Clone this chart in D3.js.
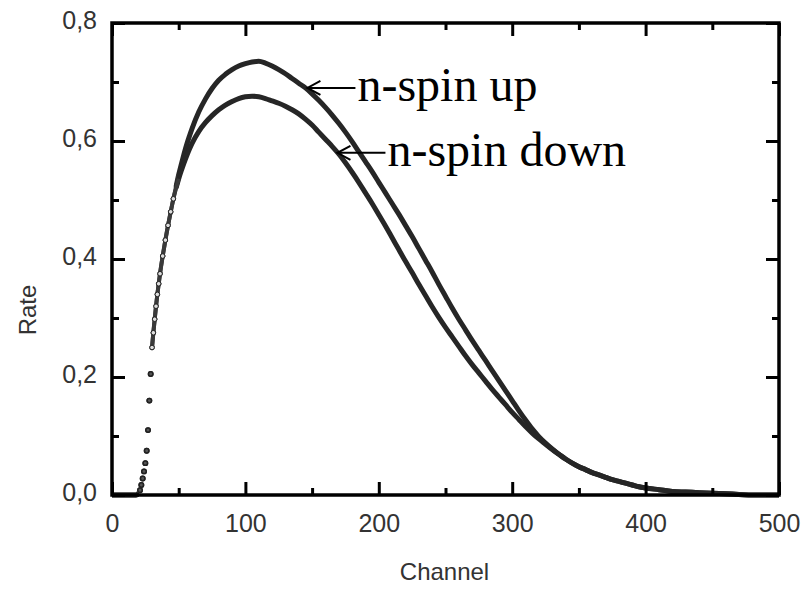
<!DOCTYPE html>
<html>
<head>
<meta charset="utf-8">
<script src="https://cdn.jsdelivr.net/npm/d3@7"></script>
<style>
  body { margin: 0; background: #fff; }
  svg { display: block; }
</style>
</head>
<body>
<div class="chart-wrapper"></div>
<script>
// channel grid (denser where the curve rises steeply)
const channels = [0, 5, 10, 15, 18, 20, 21, 22, 23, 24, 25, 26, 27, 28, 29, 30, 31, 32, 33, 34, 35, 36, 38, 40, 42, 44, 46, 48, 50,
    52, 54, 56, 58, 60, 65, 70, 75, 80, 85, 90, 95, 100, 105, 110, 115, 120, 125, 130, 135, 140, 145, 150,
    155, 160, 165, 170, 175, 180, 185, 190, 195, 200, 205, 210, 215, 220, 225, 230, 235, 240, 245, 250,
    255, 260, 265, 270, 275, 280, 285, 290, 295, 300, 305, 310, 315, 320, 325, 330, 335, 340, 345, 350,
    355, 360, 365, 370, 375, 380, 385, 390, 395, 400, 410, 420, 430, 440, 450, 460, 470, 480, 490, 500];

const spinUp = [0, 0, 0, 0, 0, 0.003, 0.008, 0.017, 0.028, 0.04, 0.054, 0.075, 0.11, 0.16, 0.205, 0.25, 0.275, 0.298, 0.32, 0.34, 0.358, 0.375, 0.405, 0.432, 0.457, 0.48, 0.502, 0.522, 0.543,
    0.561, 0.578, 0.594, 0.608, 0.621, 0.649, 0.671, 0.689, 0.703, 0.713, 0.721, 0.727, 0.731, 0.734, 0.735, 0.732, 0.727, 0.721, 0.714, 0.706, 0.698, 0.69, 0.68,
    0.669, 0.657, 0.644, 0.63, 0.615, 0.599, 0.582, 0.565, 0.548, 0.53, 0.512, 0.494, 0.476, 0.457, 0.438, 0.418, 0.398, 0.378, 0.357, 0.337,
    0.317, 0.298, 0.28, 0.262, 0.245, 0.228, 0.211, 0.194, 0.177, 0.16, 0.143, 0.127, 0.112, 0.099, 0.088, 0.078, 0.069, 0.061, 0.054, 0.048,
    0.043, 0.038, 0.034, 0.03, 0.026, 0.023, 0.02, 0.017, 0.014, 0.012, 0.009, 0.006, 0.005, 0.004, 0.003, 0.002, 0.001, 0, 0, 0];

const spinDown = [0, 0, 0, 0, 0, 0.003, 0.008, 0.017, 0.028, 0.04, 0.054, 0.075, 0.11, 0.16, 0.205, 0.25, 0.275, 0.298, 0.32, 0.34, 0.358, 0.375, 0.405, 0.432, 0.457, 0.48, 0.502, 0.52, 0.536,
    0.55, 0.563, 0.575, 0.586, 0.596, 0.616, 0.631, 0.643, 0.653, 0.661, 0.667, 0.672, 0.675, 0.676, 0.675, 0.672, 0.668, 0.664, 0.659, 0.653, 0.646, 0.637, 0.627,
    0.615, 0.603, 0.591, 0.578, 0.563, 0.547, 0.53, 0.512, 0.494, 0.475, 0.456, 0.436, 0.416, 0.396, 0.377, 0.357, 0.338, 0.319, 0.301, 0.284,
    0.268, 0.252, 0.236, 0.221, 0.207, 0.193, 0.179, 0.166, 0.153, 0.14, 0.128, 0.116, 0.105, 0.095, 0.086, 0.077, 0.069, 0.061, 0.054, 0.048,
    0.043, 0.038, 0.034, 0.03, 0.026, 0.023, 0.02, 0.017, 0.014, 0.012, 0.009, 0.006, 0.005, 0.004, 0.003, 0.002, 0.001, 0, 0, 0];

const xTicks = [0, 100, 200, 300, 400, 500];
const xMinorTicks = [50, 150, 250, 350, 450];
const yTicks = [0, 0.2, 0.4, 0.6, 0.8];
const yMinorTicks = [0.1, 0.3, 0.5, 0.7];

// arrow labels, tip given in data coords
const noteLabels = ['n-spin up', 'n-spin down'];
const noteChannels = [146.5, 169];
const noteRates = [0.69, 0.58];

const dimensions = {
    width: 806,
    height: 589,
    margin: { top: 23, right: 27, bottom: 94, left: 112 },
};
dimensions.boundedWidth = dimensions.width - dimensions.margin.left - dimensions.margin.right;
dimensions.boundedHeight = dimensions.height - dimensions.margin.top - dimensions.margin.bottom;

const wrapper = d3.select('.chart-wrapper')
    .append('svg')
    .attr('width', dimensions.width)
    .attr('height', dimensions.height);

const bounds = wrapper.append('g')
    .attr('transform', `translate(${dimensions.margin.left}, ${dimensions.margin.top})`);

const xScale = d3.scaleLinear()
    .domain([0, 500])
    .range([0, dimensions.boundedWidth]);

const yScale = d3.scaleLinear()
    .domain([0, 0.8])
    .range([dimensions.boundedHeight, 0]);

const commaFormat = d3.formatLocale({ decimal: ',', thousands: '.', grouping: [3], currency: ['', ''] }).format('.1f');

const labelFont = '"Liberation Sans", Arial, sans-serif';

// series
const series = [
    { name: 'up', values: spinUp },
    { name: 'down', values: spinDown },
];

// thick band where points are dense, lighter chain on the rise, loose dots at the onset
const bandLine = d3.line()
    .defined(d => d.ch <= 20 || d.ch >= 48)
    .x(d => xScale(d.ch))
    .y(d => yScale(d.rate))
    .curve(d3.curveMonotoneX);

const riseLine = d3.line()
    .defined(d => d.ch >= 30 && d.ch <= 50)
    .x(d => xScale(d.ch))
    .y(d => yScale(d.rate))
    .curve(d3.curveMonotoneX);

series.forEach(s => {
    const pts = channels.map((ch, i) => ({ ch: ch, rate: s.values[i] }));

    bounds.append('path')
        .attr('d', bandLine(pts))
        .attr('fill', 'none')
        .attr('stroke', '#262626')
        .attr('stroke-width', 5)
        .attr('stroke-linejoin', 'round');

    bounds.append('path')
        .attr('d', riseLine(pts))
        .attr('fill', 'none')
        .attr('stroke', '#3a3a3a')
        .attr('stroke-width', 4);

    bounds.append('g')
        .selectAll('circle')
        .data(pts.filter(d => d.ch > 20 && d.ch < 48))
        .join('circle')
        .attr('cx', d => xScale(d.ch))
        .attr('cy', d => yScale(d.rate))
        .attr('r', d => d.ch < 30 ? 2.2 : 2.3)
        .attr('fill', d => d.ch < 30 ? '#555' : '#ddd')
        .attr('stroke', '#222')
        .attr('stroke-width', d => d.ch < 30 ? 1.5 : 1);
});

// axes, ticks pointing inward on all four sides
function styleAxis(g) {
    g.select('.domain').remove();
    g.selectAll('.tick line').attr('stroke', '#000').attr('stroke-width', 3);
    g.selectAll('.tick text')
        .attr('fill', '#333')
        .style('font-family', labelFont)
        .style('font-size', '25px');
}

bounds.append('g')
    .attr('transform', `translate(0, ${dimensions.boundedHeight})`)
    .call(d3.axisBottom(xScale).tickValues(xTicks).tickSize(-13).tickPadding(19).tickFormat(d3.format('d')))
    .call(styleAxis);
bounds.append('g')
    .attr('transform', `translate(0, ${dimensions.boundedHeight})`)
    .call(d3.axisBottom(xScale).tickValues(xMinorTicks).tickSize(-7).tickFormat(''))
    .call(styleAxis);
bounds.append('g')
    .call(d3.axisTop(xScale).tickValues(xTicks).tickSize(-13).tickFormat(''))
    .call(styleAxis);
bounds.append('g')
    .call(d3.axisTop(xScale).tickValues(xMinorTicks).tickSize(-7).tickFormat(''))
    .call(styleAxis);

bounds.append('g')
    .call(d3.axisLeft(yScale).tickValues(yTicks).tickSize(-13).tickPadding(15).tickFormat(commaFormat))
    .call(styleAxis)
    .selectAll('.tick text').attr('dy', '0.2em');
bounds.append('g')
    .call(d3.axisLeft(yScale).tickValues(yMinorTicks).tickSize(-7).tickFormat(''))
    .call(styleAxis);
bounds.append('g')
    .attr('transform', `translate(${dimensions.boundedWidth}, 0)`)
    .call(d3.axisRight(yScale).tickValues(yTicks).tickSize(-13).tickFormat(''))
    .call(styleAxis);
bounds.append('g')
    .attr('transform', `translate(${dimensions.boundedWidth}, 0)`)
    .call(d3.axisRight(yScale).tickValues(yMinorTicks).tickSize(-7).tickFormat(''))
    .call(styleAxis);

// frame
bounds.append('rect')
    .attr('width', dimensions.boundedWidth)
    .attr('height', dimensions.boundedHeight)
    .attr('fill', 'none')
    .attr('stroke', '#000')
    .attr('stroke-width', 3.5);

// axis titles
wrapper.append('text')
    .attr('x', dimensions.margin.left + dimensions.boundedWidth / 2 - 1)
    .attr('y', 580)
    .attr('text-anchor', 'middle')
    .attr('fill', '#333')
    .style('font-family', labelFont)
    .style('font-size', '24px')
    .text('Channel');

wrapper.append('text')
    .attr('transform', 'translate(36, 310) rotate(-90)')
    .attr('text-anchor', 'middle')
    .attr('fill', '#333')
    .style('font-family', labelFont)
    .style('font-size', '24px')
    .text('Rate');

// arrow annotations
noteLabels.forEach((label, i) => {
    const tx = xScale(noteChannels[i]);
    const ty = yScale(noteRates[i]);
    const g = bounds.append('g');
    g.append('line')
        .attr('x1', tx).attr('y1', ty)
        .attr('x2', tx + 48).attr('y2', ty)
        .attr('stroke', '#000').attr('stroke-width', 2);
    g.append('path')
        .attr('d', `M${tx + 13},${ty - 7} L${tx},${ty} L${tx + 13},${ty + 7}`)
        .attr('fill', 'none')
        .attr('stroke', '#000')
        .attr('stroke-width', 2);
    g.append('text')
        .attr('x', tx + 50)
        .attr('y', ty + 13)
        .attr('fill', '#000')
        .style('font-family', '"Liberation Serif", "Times New Roman", serif')
        .style('font-size', '48px')
        .text(label);
});
</script>
</body>
</html>
